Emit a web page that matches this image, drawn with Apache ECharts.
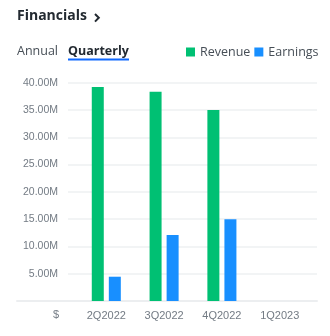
<!DOCTYPE html>
<html>
<head>
<meta charset="utf-8">
<script src="https://cdn.jsdelivr.net/npm/echarts@6/dist/echarts.min.js"></script>
<style>
  html, body { margin: 0; padding: 0; background: #fff; }
  #chart { width: 330px; height: 336px; }
</style>
</head>
<body>
<div id="chart"></div>
<script>
// Quarterly financials
const quarters = ['2Q2022', '3Q2022', '4Q2022', '1Q2023'];
const revenue = [39.2e6, 38.35e6, 35.0e6, null];
const earnings = [4.45e6, 12.1e6, 15.0e6, null];
const yTicks = { min: 0, max: 40e6, interval: 5e6 };

const labelFont = 'Liberation Sans, Arial, sans-serif';
const uiFont = 'Open Sans, Noto Sans, sans-serif';
const labelColor = '#737b84';
const gridColor = '#eef0f2';

const fmtM = v => v === 0 ? '' : (v / 1e6).toFixed(2) + 'M';

const plotTop = 82.7, plotBottom = 35;

const chart = echarts.init(document.getElementById('chart'), null, { renderer: 'canvas' });
chart.setOption({
  animation: false,
  legend: {
    data: ['Revenue', 'Earnings'],
    orient: 'horizontal',
    left: 186, top: 45.5, width: 200, padding: 0,
    icon: 'rect', itemWidth: 9, itemHeight: 9, itemGap: 4,
    textStyle: { fontFamily: uiFont, fontSize: 12.5, color: '#464e56' }
  },
  grid: [
    // baseline
    { left: 17, right: 13, top: plotTop, bottom: plotBottom },
    // value gridlines and labels
    { left: 68, right: 13, top: plotTop, bottom: plotBottom },
    // bars
    { left: 77.4, right: 21.4, top: plotTop, bottom: plotBottom }
  ],
  xAxis: [
    { gridIndex: 0, type: 'value', min: 0, max: 1, axisLine: { show: true, onZero: false, lineStyle: { color: '#eceef0', width: 2 } },
      axisTick: { show: false }, axisLabel: { show: false }, splitLine: { show: false } },
    { gridIndex: 1, type: 'value', show: false },
    { gridIndex: 2, type: 'category', data: quarters,
      axisLine: { show: false }, axisTick: { show: false },
      axisLabel: { fontFamily: labelFont, fontSize: 11, color: labelColor, margin: 9 } }
  ],
  yAxis: [
    { gridIndex: 0, type: 'value', ...yTicks, show: false },
    { gridIndex: 1, type: 'value', ...yTicks,
      axisLine: { show: false }, axisTick: { show: false },
      splitLine: { lineStyle: { color: gridColor, width: 1.5 } },
      axisLabel: { fontFamily: labelFont, fontSize: 10.5, color: labelColor, margin: 10, formatter: fmtM } },
    { gridIndex: 2, type: 'value', ...yTicks, show: false }
  ],
  series: [
    { name: 'Revenue', type: 'bar', xAxisIndex: 2, yAxisIndex: 2, data: revenue,
      barWidth: 12, barGap: '42%', itemStyle: { color: '#00c073' } },
    { name: 'Earnings', type: 'bar', xAxisIndex: 2, yAxisIndex: 2, data: earnings,
      barWidth: 12, barGap: '42%', itemStyle: { color: '#188fff' } }
  ],
  graphic: [
    { type: 'text', left: 17, top: 9.5, style: { text: 'Financials', font: 'bold 14px ' + uiFont, fill: '#232a31' } },
    { type: 'polyline', shape: { points: [[95, 14], [98.8, 17.8], [95, 21.6]] },
      style: { stroke: '#232a31', lineWidth: 2, fill: null } },
    { type: 'text', left: 17, top: 44.5, style: { text: 'Annual', font: '12.5px ' + uiFont, fill: '#464e56' } },
    { type: 'text', left: 68, top: 44.5, style: { text: 'Quarterly', font: 'bold 12.5px ' + uiFont, fill: '#232a31' } },
    { type: 'rect', shape: { x: 68, y: 58.5, width: 61, height: 2 }, style: { fill: '#0f69ff' } },
    { type: 'text', left: 53, top: 309, style: { text: '$', font: '11px ' + labelFont, fill: labelColor } }
  ]
});
</script>
</body>
</html>
